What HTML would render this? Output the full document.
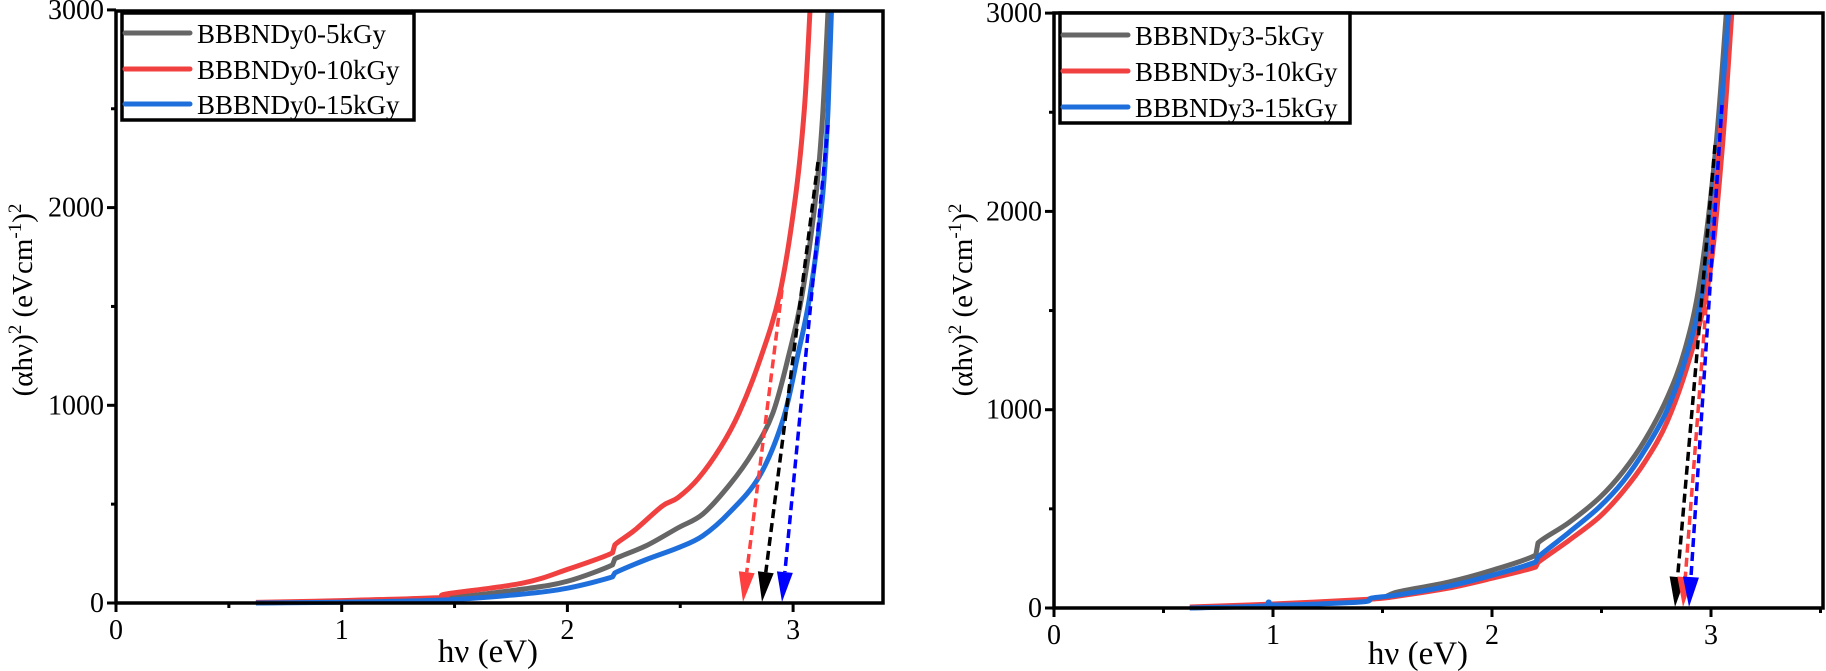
<!DOCTYPE html>
<html><head><meta charset="utf-8"><style>
html,body{margin:0;padding:0;background:#fff;}
svg{display:block;}
text{font-family:"Liberation Serif",serif;}
</style></head><body>
<svg id="s" width="1826" height="671" viewBox="0 0 1826 671" xmlns="http://www.w3.org/2000/svg" font-family="Liberation Serif, serif">
<rect width="1826" height="671" fill="#fff"/>
<g id="g"></g>
<text transform="translate(32,300) rotate(-90)" text-anchor="middle" font-size="29">(αhν)<tspan dy="-11" font-size="19">2</tspan><tspan dy="11"> (eVcm</tspan><tspan dy="-11" font-size="19">-1</tspan><tspan dy="11">)</tspan><tspan dy="-11" font-size="19">2</tspan></text>
<text transform="translate(972,300) rotate(-90)" text-anchor="middle" font-size="29">(αhν)<tspan dy="-11" font-size="19">2</tspan><tspan dy="11"> (eVcm</tspan><tspan dy="-11" font-size="19">-1</tspan><tspan dy="11">)</tspan><tspan dy="-11" font-size="19">2</tspan></text>
<text x="488" y="662" text-anchor="middle" font-size="33">hν (eV)</text>
<text x="1418" y="664" text-anchor="middle" font-size="33">hν (eV)</text>
<rect x="122" y="13" width="292" height="107" fill="#fff" stroke="#000" stroke-width="3.5"/>
<line x1="125" y1="33" x2="190" y2="33" stroke="#666" stroke-width="5" stroke-linecap="round"/>
<line x1="125" y1="69" x2="190" y2="69" stroke="#f04040" stroke-width="5" stroke-linecap="round"/>
<line x1="125" y1="104" x2="190" y2="104" stroke="#1e6fdc" stroke-width="5" stroke-linecap="round"/>
<text x="197" y="43" font-size="27">BBBNDy0-5kGy</text>
<text x="197" y="79" font-size="27">BBBNDy0-10kGy</text>
<text x="197" y="114" font-size="27">BBBNDy0-15kGy</text>
<rect x="1060" y="13" width="290" height="110" fill="#fff" stroke="#000" stroke-width="3.5"/>
<line x1="1063" y1="35" x2="1128" y2="35" stroke="#666" stroke-width="5" stroke-linecap="round"/>
<line x1="1063" y1="71" x2="1128" y2="71" stroke="#f04040" stroke-width="5" stroke-linecap="round"/>
<line x1="1063" y1="107" x2="1128" y2="107" stroke="#1e6fdc" stroke-width="5" stroke-linecap="round"/>
<text x="1135" y="45" font-size="27">BBBNDy3-5kGy</text>
<text x="1135" y="81" font-size="27">BBBNDy3-10kGy</text>
<text x="1135" y="117" font-size="27">BBBNDy3-15kGy</text>
</svg>
<script>
const NS="http://www.w3.org/2000/svg",g=document.getElementById('g');
function el(t,a,txt){const e=document.createElementNS(NS,t);for(const k in a)e.setAttribute(k,a[k]);if(txt!==undefined)e.textContent=txt;g.appendChild(e);return e;}
function chart(c){
 const X=e=>c.x0+c.sx*e, Y=v=>c.y0-c.sy*v;
 for(let e=0;e<=c.xmax+1e-9;e+=0.5){const maj=Math.abs(e-Math.round(e))<1e-9;
  el('line',{x1:X(e),x2:X(e),y1:c.y0,y2:c.y0+(maj?9:5),stroke:'#000','stroke-width':3});
  if(maj)el('text',{x:X(e),y:c.y0+36,'text-anchor':'middle','font-size':28,'font-family':'Liberation Serif, serif'},String(Math.round(e)));}
 for(let v=0;v<=3000;v+=500){const maj=v%1000==0;
  el('line',{x1:c.x0,x2:c.x0-(maj?9:5),y1:Y(v),y2:Y(v),stroke:'#000','stroke-width':3});
  if(maj)el('text',{x:c.x0-12,y:Y(v)+9,'text-anchor':'end','font-size':28,'font-family':'Liberation Serif, serif'},String(v));}
 c.series.forEach(s=>{
  const p=s.d.map(q=>[X(q[0]),Y(q[1])]);
  let d='M'+p[0][0]+','+p[0][1];
  for(let i=0;i<p.length-1;i++){const p0=p[Math.max(0,i-1)],p1=p[i],p2=p[i+1],p3=p[Math.min(p.length-1,i+2)];
   const t=(p2[0]-p1[0])<0.015*c.sx?0:1/6;
   d+=` C${p1[0]+(p2[0]-p0[0])*t},${p1[1]+(p2[1]-p0[1])*t} ${p2[0]-(p3[0]-p1[0])*t},${p2[1]-(p3[1]-p1[1])*t} ${p2[0]},${p2[1]}`;}
  el('path',{d:d,fill:'none',stroke:s.c,'stroke-width':5,'stroke-linejoin':'round'});
 });
 c.arrows.forEach(a=>{
  const [x1,y1,x2,y2,col]=a;const L=Math.hypot(x2-x1,y2-y1),ux=(x2-x1)/L,uy=(y2-y1)/L,h=30;
  el('line',{x1:x1,y1:y1,x2:x2-ux*h,y2:y2-uy*h,stroke:col,'stroke-width':3.5,'stroke-dasharray':'9 5'});
  const bx=x2-ux*h,by=y2-uy*h,w=8;
  el('polygon',{points:`${x2},${y2} ${bx-uy*w},${by+ux*w} ${bx+uy*w},${by-ux*w}`,fill:col});
 });
 el('path',{d:`M${c.x0},${c.y0} L${c.x1},${c.y0} L${c.x1},${c.yt} L${c.x0},${c.yt} Z`,fill:'none',stroke:'#000','stroke-width':3.5});
}
chart({x0:116,sx:225.7,y0:603,sy:0.1977,x1:883,yt:11,xmax:3.4,
 series:[
 {c:'#666',d:[[0.62,0],[1.0,8],[1.45,25],[1.8,70],[2.0,110],[2.2,193],[2.21,223],[2.35,290],[2.49,380],[2.6,450],[2.72,600],[2.82,760],[2.91,960],[2.98,1250],[3.04,1560],[3.10,2050],[3.13,2450],[3.155,3000]]},
 {c:'#f04040',d:[[0.62,3],[1.0,12],[1.44,28],[1.46,45],[1.8,100],[2.0,170],[2.2,254],[2.21,294],[2.3,370],[2.42,490],[2.49,533],[2.58,630],[2.68,790],[2.76,960],[2.85,1220],[2.94,1560],[3.01,2050],[3.05,2500],[3.075,3000]]},
 {c:'#1e6fdc',d:[[0.62,0],[1.0,4],[1.45,15],[1.8,45],[2.0,75],[2.2,132],[2.21,152],[2.35,220],[2.49,279],[2.6,340],[2.72,460],[2.85,640],[2.955,926],[3.02,1250],[3.075,1560],[3.13,2050],[3.155,2500],[3.17,3000]]}],
 arrows:[[782,290,743,602,'#ff4040'],[818,162,762,602,'#000'],[828,125,782,602,'#0000ff']]});
chart({x0:1054,sx:219,y0:608,sy:0.1983,x1:1823,yt:13,xmax:3.5,
 series:[
 {c:'#666',d:[[0.62,0],[1.0,15],[1.45,45],[1.57,81],[1.8,130],[2.0,190],[2.2,267],[2.21,328],[2.35,430],[2.49,555],[2.6,690],[2.7,850],[2.8,1060],[2.88,1300],[2.95,1654],[3.02,2300],[3.07,3000]]},
 {c:'#f04040',d:[[0.62,5],[1.0,20],[1.45,45],[1.57,60],[1.8,100],[2.0,150],[2.2,207],[2.21,230],[2.35,340],[2.49,459],[2.6,590],[2.7,740],[2.8,940],[2.9,1250],[2.99,1654],[3.05,2300],[3.095,3000]]},
 {c:'#1e6fdc',d:[[0.62,0],[0.95,10],[0.98,30],[1.02,15],[1.4,30],[1.45,50],[1.57,66],[1.8,110],[2.0,165],[2.2,232],[2.21,257],[2.35,380],[2.49,509],[2.6,640],[2.7,800],[2.8,1000],[2.89,1280],[2.97,1654],[3.03,2300],[3.08,3000]]}],
 arrows:[[1715,145,1675,607,'#000'],[1720,125,1683,607,'#ff4040'],[1722,105,1689,607,'#0000ff']]});
const s=document.getElementById('s');
[...s.children].forEach(n=>{if(n.id!=='g'&&!(n.tagName==='rect'&&n.getAttribute('width')==='1826'))s.appendChild(n);});
</script>
</body></html>
